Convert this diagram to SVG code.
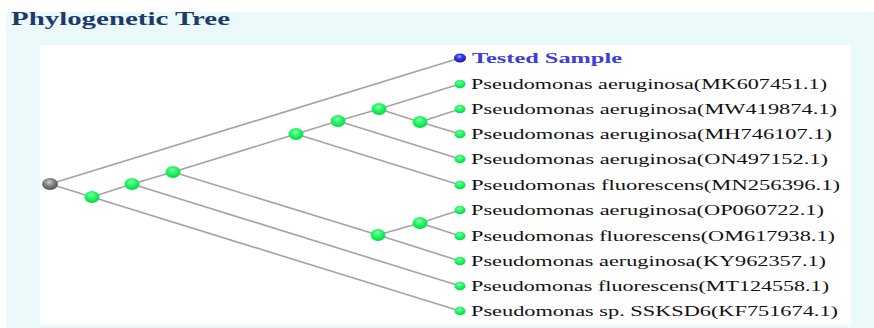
<svg xmlns="http://www.w3.org/2000/svg" width="874" height="328" viewBox="0 0 874 328">
<style>
.edge{stroke:#a3a3a3;stroke-width:1.6;fill:none}
.lbl{font-family:"Liberation Serif","Times New Roman",serif;font-size:14px;fill:#111}
.tested{font-family:"Liberation Serif","Times New Roman",serif;font-size:15px;font-weight:bold;fill:#3c3ce0}
.title{font-family:"Liberation Serif","Times New Roman",serif;font-size:18px;font-weight:bold;fill:#1d3a6c}
.inner{fill:url(#gGreen)}
.leaf{fill:url(#gGreen)}
</style>
<defs>
<radialGradient id="gGreen" cx="0.45" cy="0.35" r="0.65">
<stop offset="0" stop-color="#b8ffc8"/>
<stop offset="0.35" stop-color="#2cff6a"/>
<stop offset="1" stop-color="#00d648"/>
</radialGradient>
<radialGradient id="gGray" cx="0.45" cy="0.35" r="0.65">
<stop offset="0" stop-color="#d0d0d0"/>
<stop offset="0.4" stop-color="#8a8a8a"/>
<stop offset="1" stop-color="#505050"/>
</radialGradient>
<radialGradient id="gBlue" cx="0.45" cy="0.35" r="0.65">
<stop offset="0" stop-color="#a8a8ff"/>
<stop offset="0.4" stop-color="#3434f0"/>
<stop offset="1" stop-color="#1a1ab0"/>
</radialGradient>
</defs>
<rect x="6" y="12" width="868" height="316" fill="#ebf9fb"/>
<rect x="40" y="45" width="811" height="280" fill="#ffffff"/>
<text class="title" x="11" y="25" textLength="219" lengthAdjust="spacingAndGlyphs">Phylogenetic Tree</text>
<g id="connectors">
<line class="edge" x1="50" y1="184" x2="460" y2="58"/>
<line class="edge" x1="50" y1="184" x2="92" y2="197"/>
<line class="edge" x1="92" y1="197" x2="460" y2="311"/>
<line class="edge" x1="92" y1="197" x2="132" y2="184"/>
<line class="edge" x1="132" y1="184" x2="460" y2="286"/>
<line class="edge" x1="132" y1="184" x2="173" y2="172"/>
<line class="edge" x1="173" y1="172" x2="296" y2="134"/>
<line class="edge" x1="173" y1="172" x2="378" y2="235"/>
<line class="edge" x1="378" y1="235" x2="420" y2="223"/>
<line class="edge" x1="378" y1="235" x2="460" y2="261"/>
<line class="edge" x1="420" y1="223" x2="460" y2="210"/>
<line class="edge" x1="420" y1="223" x2="460" y2="236"/>
<line class="edge" x1="296" y1="134" x2="338" y2="121"/>
<line class="edge" x1="296" y1="134" x2="460" y2="185"/>
<line class="edge" x1="338" y1="121" x2="379" y2="109"/>
<line class="edge" x1="338" y1="121" x2="460" y2="159"/>
<line class="edge" x1="379" y1="109" x2="460" y2="84"/>
<line class="edge" x1="379" y1="109" x2="420" y2="122"/>
<line class="edge" x1="420" y1="122" x2="460" y2="109"/>
<line class="edge" x1="420" y1="122" x2="460" y2="134"/>
</g>
<g id="root"><ellipse cx="50" cy="184" rx="8" ry="6" fill="url(#gGray)"/></g>
<g id="nodeA"><ellipse class="inner" cx="92" cy="197" rx="7.5" ry="6"/></g>
<g id="nodeB"><ellipse class="inner" cx="132" cy="184" rx="7.5" ry="6"/></g>
<g id="nodeC"><ellipse class="inner" cx="173" cy="172" rx="7.5" ry="6"/></g>
<g id="nodeD"><ellipse class="inner" cx="296" cy="134" rx="7.5" ry="6"/></g>
<g id="nodeE"><ellipse class="inner" cx="338" cy="121" rx="7.5" ry="6"/></g>
<g id="nodeF"><ellipse class="inner" cx="379" cy="109" rx="7.5" ry="6"/></g>
<g id="nodeG"><ellipse class="inner" cx="420" cy="122" rx="7.5" ry="6"/></g>
<g id="nodeH"><ellipse class="inner" cx="378" cy="235" rx="7.5" ry="6"/></g>
<g id="nodeI"><ellipse class="inner" cx="420" cy="223" rx="7.5" ry="6"/></g>
<g id="leaf-tested"><ellipse cx="460" cy="58" rx="6" ry="4.5" fill="url(#gBlue)"/><text class="tested" x="472" y="63" textLength="150" lengthAdjust="spacingAndGlyphs">Tested Sample</text></g>
<g id="leaf-MK607451"><ellipse class="leaf" cx="460" cy="84" rx="5.5" ry="4.3"/><text class="lbl" x="471" y="89" textLength="356" lengthAdjust="spacingAndGlyphs">Pseudomonas aeruginosa(MK607451.1)</text></g>
<g id="leaf-MW419874"><ellipse class="leaf" cx="460" cy="109" rx="5.5" ry="4.3"/><text class="lbl" x="471" y="114" textLength="366" lengthAdjust="spacingAndGlyphs">Pseudomonas aeruginosa(MW419874.1)</text></g>
<g id="leaf-MH746107"><ellipse class="leaf" cx="460" cy="134" rx="5.5" ry="4.3"/><text class="lbl" x="471" y="139" textLength="361" lengthAdjust="spacingAndGlyphs">Pseudomonas aeruginosa(MH746107.1)</text></g>
<g id="leaf-ON497152"><ellipse class="leaf" cx="460" cy="159" rx="5.5" ry="4.3"/><text class="lbl" x="471" y="164" textLength="357" lengthAdjust="spacingAndGlyphs">Pseudomonas aeruginosa(ON497152.1)</text></g>
<g id="leaf-MN256396"><ellipse class="leaf" cx="460" cy="185" rx="5.5" ry="4.3"/><text class="lbl" x="471" y="190" textLength="369" lengthAdjust="spacingAndGlyphs">Pseudomonas fluorescens(MN256396.1)</text></g>
<g id="leaf-OP060722"><ellipse class="leaf" cx="460" cy="210" rx="5.5" ry="4.3"/><text class="lbl" x="471" y="215" textLength="353" lengthAdjust="spacingAndGlyphs">Pseudomonas aeruginosa(OP060722.1)</text></g>
<g id="leaf-OM617938"><ellipse class="leaf" cx="460" cy="236" rx="5.5" ry="4.3"/><text class="lbl" x="471" y="241" textLength="364" lengthAdjust="spacingAndGlyphs">Pseudomonas fluorescens(OM617938.1)</text></g>
<g id="leaf-KY962357"><ellipse class="leaf" cx="460" cy="261" rx="5.5" ry="4.3"/><text class="lbl" x="471" y="266" textLength="355" lengthAdjust="spacingAndGlyphs">Pseudomonas aeruginosa(KY962357.1)</text></g>
<g id="leaf-MT124558"><ellipse class="leaf" cx="460" cy="286" rx="5.5" ry="4.3"/><text class="lbl" x="471" y="291" textLength="358" lengthAdjust="spacingAndGlyphs">Pseudomonas fluorescens(MT124558.1)</text></g>
<g id="leaf-KF751674"><ellipse class="leaf" cx="460" cy="311" rx="5.5" ry="4.3"/><text class="lbl" x="471" y="316" textLength="367" lengthAdjust="spacingAndGlyphs">Pseudomonas sp. SSKSD6(KF751674.1)</text></g>
</svg>
